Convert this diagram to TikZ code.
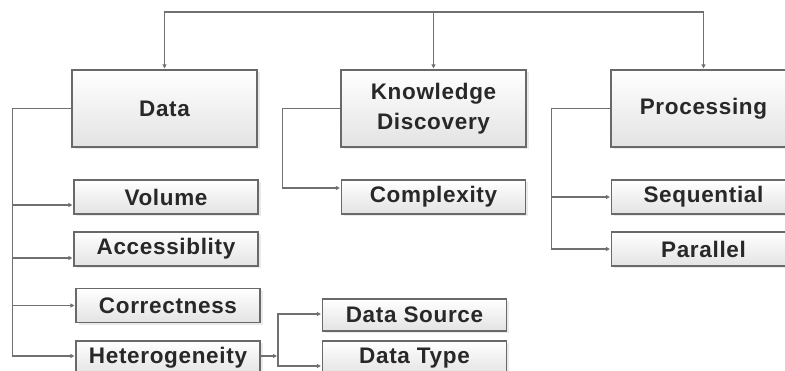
\documentclass[tikz,border=0pt]{standalone}
\usepackage{fontspec}
\setmainfont{Liberation Sans}[LetterSpace=3]
\usepackage{tikz}
\usetikzlibrary{arrows.meta,shadows}
\definecolor{boxline}{RGB}{105,105,105}
\definecolor{linkgray}{RGB}{112,112,112}
\definecolor{txtgray}{RGB}{40,40,40}

\begin{document}
\begin{tikzpicture}[
  x=1pt, y=-1pt,
  font=\fontsize{22.5}{30}\selectfont\bfseries,
  basebox/.style={rectangle, draw=boxline, line width=1.2pt, top color=white, bottom color=black!11, drop shadow={shadow xshift=2.5pt, shadow yshift=-2.5pt, fill=black!16}, text=txtgray, align=center, inner sep=0pt},
  topbox/.style={basebox, minimum width=185pt, minimum height=77pt},
  leaf/.style={basebox, minimum width=184pt, minimum height=34pt},
  link/.style={draw=linkgray, line width=1.6pt, -{Triangle[length=4pt,width=4pt]}, shorten >=1pt},
]
  \useasboundingbox (0,0) rectangle (785,371);

  % Main areas
  \node[topbox] (data) at (164.5,108.5) {Data};
  \node[topbox] (kd) at (433.5,108.5) {Knowledge\\Discovery};
  \node[topbox] (proc) at (703.5,108.5) {Processing};

  % Sub items
  \node[leaf] (vol) at (166,197) {Volume};
  \node[leaf] (acc) at (166,249) {Accessiblity};
  \node[leaf] (corr) at (168,305.5) {Correctness};
  \node[leaf] (het) at (168,358) {Heterogeneity};
  \node[leaf] (cplx) at (433.5,197) {Complexity};
  \node[leaf] (seq) at (703.5,197) {Sequential};
  \node[leaf] (par) at (703.5,249) {Parallel};
  \node[leaf, minimum height=32pt] (src) at (414.5,315) {Data Source};
  \node[leaf] (dtype) at (414.5,358) {Data Type};

  % Top bus
  \coordinate (bus) at (433.5,12);
  \draw[link] (bus) -| (data.north);
  \draw[link] (bus) -- (kd.north);
  \draw[link] (bus) -| (proc.north);

  % Branches
  \draw[link] (data.west) -- ++(-59,0) |- ([yshift=-8pt]vol.west);
  \draw[link] (data.west) -- ++(-59,0) |- ([yshift=-9pt]acc.west);
  \draw[link] (data.west) -- ++(-59,0) |- (corr.west);
  \draw[link] (data.west) -- ++(-59,0) |- ([yshift=2pt]het.west);
  \draw[link] (kd.west) -- ++(-58,0) |- ([yshift=9pt]cplx.west);
  \draw[link] (proc.west) -- ++(-59,0) |- (seq.west);
  \draw[link] (proc.west) -- ++(-59,0) |- (par.west);

  % Heterogeneity split
  \coordinate (hj) at (278,356);
  \draw[link] ([yshift=2pt]het.east) -- (hj);
  \draw[link] (hj) |- ([yshift=1pt]src.west);
  \draw[link] (hj) |- ([yshift=-8pt]dtype.west);
\end{tikzpicture}
\end{document}
